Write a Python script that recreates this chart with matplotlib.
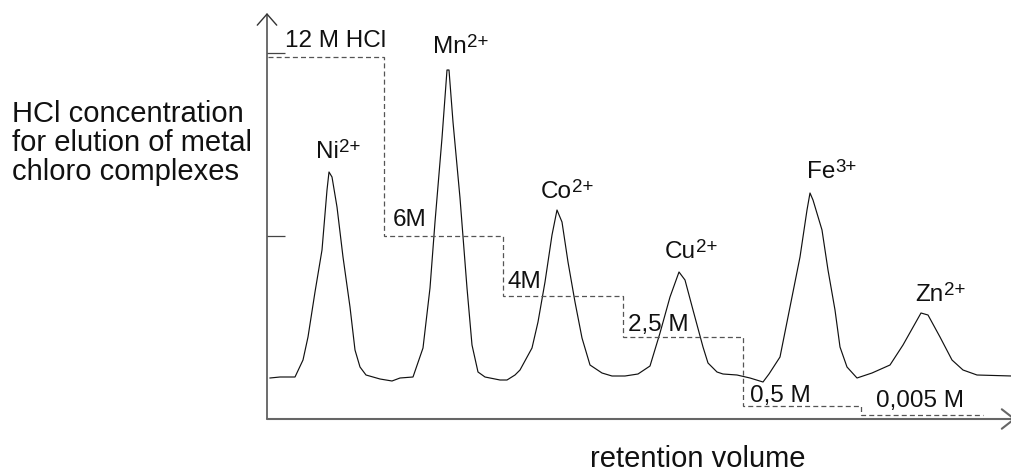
import matplotlib
matplotlib.use("Agg")
import matplotlib.pyplot as plt
from matplotlib.text import Annotation

plt.rcParams['font.family'] = ['Liberation Sans', 'DejaVu Sans']

# ---- data ----
# chromatogram: retention volume (arbitrary units) vs detector signal (arbitrary units)
ret_vol = [3, 13, 28, 36, 41, 48, 55, 60, 62, 65, 70, 76, 83, 88, 93, 99, 113, 125, 133, 146,
           156, 163, 168, 175, 180, 182, 186, 193, 200, 205, 211, 218, 233, 240, 248, 253, 265,
           271, 278, 285, 290, 295, 301, 308, 315, 323, 335, 345, 358, 371, 383, 393, 403, 412,
           418, 426, 436, 441, 450, 456, 470, 483, 496, 502, 513, 523, 533, 540, 543, 546, 555,
           561, 568, 573, 580, 590, 605, 623, 636, 654, 661, 673, 685, 696, 710, 745]
signal = [41, 42, 42, 59, 82, 127, 169, 229, 247, 242, 212, 162, 112, 69, 52, 44, 40, 38, 41, 42,
          71, 131, 197, 281, 349, 349, 297, 221, 131, 74, 47, 42, 39, 39, 44, 49, 71,
          97, 137, 184, 209, 197, 157, 117, 81, 54, 46, 43, 43, 45, 53, 86, 122, 147,
          139, 109, 72, 56, 47, 45, 44, 41, 37, 45, 62, 112, 162, 209, 226, 219, 189,
          149, 109, 72, 52, 41, 46, 54, 74, 106, 104, 82, 59, 49, 44, 43]

# HCl elution steps: volume edges and drawn concentration level (M)
step_edges = [1, 117, 236, 356, 476, 594, 716]
step_level = [12.0, 6.07, 4.08, 2.72, 0.43, 0.13]
step_labels = ['12 M HCl', '6M', '4M', '2,5 M', '0,5 M', '0,005 M']

ions = ['Ni', 'Mn', 'Co', 'Cu', 'Fe', 'Zn']
charges = ['2+', '2+', '2+', '2+', '3+', '2+']

conc_ticks = [12.13, 6.07]

# ---- figure ----
W, H = 1012, 474
fig = plt.figure(figsize=(W / 100, H / 100), dpi=100)

def fx(x):
    return x / W

def fy(y):
    return 1 - y / H

ax = fig.add_axes([fx(267), fy(419), (1016 - 267) / W, (419 - 13) / H])
ax.set_xlim(0, 749)
ax.set_ylim(0, 406)
ax.plot(ret_vol, signal, color='#111111', lw=0.85, solid_joinstyle='round')
for s in ax.spines.values():
    s.set_visible(False)
ax.set_xticks([])
ax.set_yticks([])
ax.patch.set_visible(False)

axc = ax.twinx()
axc.set_ylim(0, 406 / 30.17)
axc.stairs(step_level, step_edges, baseline=None, color='#555555', lw=0.9,
           linestyle=(0, (4, 2.5)))
for s in axc.spines.values():
    s.set_visible(False)
axc.yaxis.set_ticks_position('left')
axc.set_yticks(conc_ticks)
axc.set_yticklabels([])
axc.tick_params(axis='y', direction='in', length=13, width=0.9, color='#444444')
axc.set_xticks([])

# axes with open arrow heads
ax.annotate('', xy=(0, 1), xytext=(0, 0), xycoords='axes fraction',
            arrowprops=dict(arrowstyle='->, head_length=0.4, head_width=0.35',
                            lw=1.0, color='#333333', shrinkA=0, shrinkB=0,
                            mutation_scale=20), annotation_clip=False)
ax.annotate('', xy=(1, 0), xytext=(0, 0), xycoords='axes fraction',
            arrowprops=dict(arrowstyle='->, head_length=0.45, head_width=0.35',
                            lw=1.5, color='#666666', shrinkA=0, shrinkB=0,
                            mutation_scale=20), annotation_clip=False)

# labels
fs_small = 17.5
fs_sup = 13.5
fs_big = 21
ion_pos = [(316, 158), (433, 53), (541, 198), (665, 258), (807, 178), (915, 301)]
for name, ch, (x, y) in zip(ions, charges, ion_pos):
    t = fig.text(fx(x), fy(y), name, fontsize=fs_small,
                 ha='left', va='baseline', color='#111111')
    ann = Annotation(ch, xy=(1, 1), xycoords=t, xytext=(0.2, 1.5),
                     textcoords='offset points', fontsize=fs_sup,
                     ha='left', va='top', color='#111111')
    fig.add_artist(ann)

step_pos = [(285, 47), (393, 226), (508, 288), (628, 331), (750, 402), (876, 407)]
for lab, (x, y) in zip(step_labels, step_pos):
    fig.text(fx(x), fy(y), lab, fontsize=fs_small, ha='left', va='baseline',
             color='#111111')

ylabel_lines = ['HCl concentration', 'for elution of metal', 'chloro complexes']
for line, y in zip(ylabel_lines, [122, 151, 180]):
    fig.text(fx(12), fy(y), line, fontsize=fs_big, ha='left', va='baseline',
             color='#111111')

fig.text(fx(590), fy(467), 'retention volume', fontsize=fs_big, ha='left',
         va='baseline', color='#111111')

fig.savefig('out.png', dpi=100, facecolor='white')
